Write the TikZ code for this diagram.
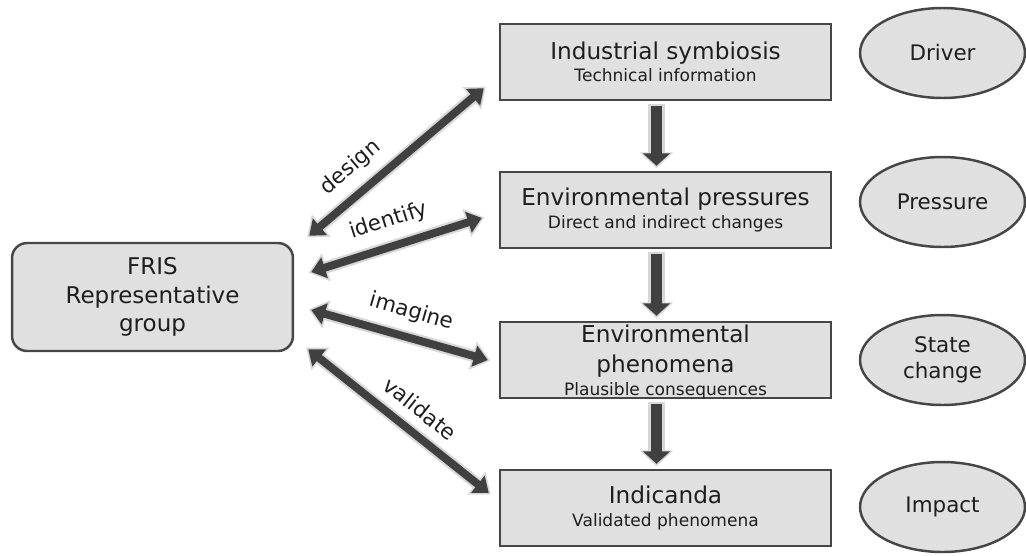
\documentclass[tikz,border=0pt]{standalone}
\usepackage{fontspec}
\setmainfont{DejaVu Sans}
\usetikzlibrary{shapes.geometric,arrows.meta}

\definecolor{cajagris}{HTML}{E0E0E0}
\definecolor{bordegris}{HTML}{464646}
\definecolor{flechagris}{HTML}{404040}
\definecolor{halogris}{HTML}{D8D8D8}
\definecolor{textogris}{HTML}{1E1E1E}

\newcommand{\subtexto}[1]{{\fontsize{9.7}{12}\selectfont #1}}

\begin{document}
\begin{tikzpicture}[x=0.02cm,y=-0.02cm,
        caja/.style={draw=bordegris, line width=1.4pt, fill=cajagris, minimum width=6.62cm,
            minimum height=1.52cm, inner sep=0pt, align=center, text=textogris,
            font=\fontsize{13.2}{12.6}\selectfont},
        grupo/.style={caja, rounded corners=0.3cm, minimum width=5.62cm, minimum height=2.16cm,
            font=\fontsize{13.1}{16.4}\selectfont},
        dpsir/.style={ellipse, draw=bordegris, line width=1.4pt, fill=cajagris, minimum width=3.3cm,
            minimum height=1.8cm, inner sep=0pt, align=center, text=textogris,
            font=\fontsize{12.2}{14.7}\selectfont},
        enlace/.style={draw=flechagris, line width=4.5pt,
            {Triangle[length=8pt,width=12pt]}-{Triangle[length=8pt,width=12pt]},
            preaction={draw=halogris, line width=7pt,
                {Triangle[length=10.5pt,width=16pt]}-{Triangle[length=10.5pt,width=16pt]},
                shorten <=-1.5pt, shorten >=-1.5pt}},
        paso/.style={draw=flechagris, line width=6.8pt, -{Triangle[length=7pt,width=15pt]},
            preaction={draw=halogris, line width=9.4pt, -{Triangle[length=9pt,width=18.5pt]},
                shorten <=-1.3pt, shorten >=-1.4pt}},
        verbo/.style={font=\fontsize{12.2}{14}\selectfont, text=textogris, sloped, above=3pt}
    ]
        \useasboundingbox (0,0) rectangle (1026,555);

        % Cajas de la cadena
        \node[caja] (ind) at (665.5,62) {Industrial symbiosis\\\subtexto{Technical information}};
        \node[caja] (pres) at (665.5,210) {Environmental pressures\\\subtexto{Direct and indirect changes}};
        \node[caja, text depth=-3pt] (fen) at (665.5,360)
            {Environmental\\[4.5pt]phenomena\\[0.5pt]\subtexto{Plausible consequences}};
        \node[caja] (indic) at (665.5,508) {Indicanda\\\subtexto{Validated phenomena}};

        % Grupo representativo
        \node[grupo] (fris) at (152.5,297) {FRIS\\Representative\\group};

        % Elipses DPSIR
        \node[dpsir] (driver) at (942.5,53) {Driver};
        \node[dpsir] (pressure) at (942.5,202) {Pressure};
        \node[dpsir] (state) at (942.5,360) {State\\change};
        \node[dpsir] (impact) at (942.5,507) {Impact};

        % Flechas verticales
        \draw[paso] ([shift={(-9,5)}]ind.south) -- ([shift={(-9,-5)}]pres.north);
        \draw[paso] ([shift={(-9,5)}]pres.south) -- ([shift={(-9,-5)}]fen.north);
        \draw[paso] ([shift={(-9,5)}]fen.south) -- ([shift={(-9,-5)}]indic.north);

        % Flechas dobles con sus verbos
        \draw[enlace] ([shift={(15,-6)}]fris.north east) -- ([shift={(-15,-13)}]ind.south west)
            node[verbo, pos=0.33] {design};
        \draw[enlace] ([shift={(17,-25)}]fris.east) -- ([shift={(-17,8)}]pres.west)
            node[verbo, pos=0.5] {identify};
        \draw[enlace] ([shift={(17,13)}]fris.east) -- ([shift={(-11,0)}]fen.west)
            node[verbo, pos=0.53] {imagine};
        \draw[enlace] ([shift={(14,-3)}]fris.south east) -- ([shift={(-10,-15)}]indic.west)
            node[verbo, pos=0.54] {validate};
    \end{tikzpicture}
\end{document}
